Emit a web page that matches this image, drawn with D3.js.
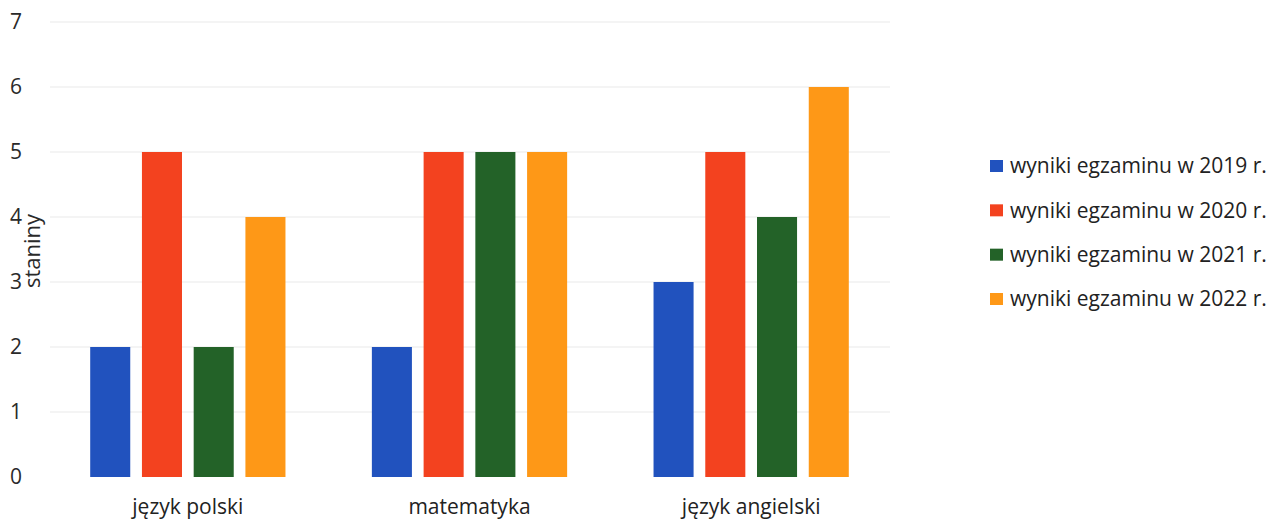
<!DOCTYPE html>
<html><head><meta charset="utf-8">
<script src="https://cdn.jsdelivr.net/npm/d3@7"></script>
<style>body{margin:0;background:#fff}svg{display:block}text{font-family:"Open Sans",sans-serif}</style>
</head><body><svg id="c" width="1271" height="519"></svg>
<script>
const categories = ["język polski", "matematyka", "język angielski"];
const seriesNames = ["wyniki egzaminu w 2019 r.", "wyniki egzaminu w 2020 r.", "wyniki egzaminu w 2021 r.", "wyniki egzaminu w 2022 r."];
const values2019 = [2, 2, 3];
const values2020 = [5, 5, 5];
const values2021 = [2, 5, 4];
const values2022 = [4, 5, 6];
const yTicks = [0, 1, 2, 3, 4, 5, 6, 7];
const colors = ["#2152be", "#f3421f", "#236228", "#fe9817"];
const yLabel = "staniny";

const FONT = "'Open Sans', sans-serif";
const series = [values2019, values2020, values2021, values2022];
const svg = d3.select("#c");
const x0 = d3.scaleBand().domain(categories).range([47, 892]);
const x1 = d3.scaleBand().domain(d3.range(4)).range([0, x0.bandwidth()]).paddingInner(0.226).paddingOuter(0.835);
const y = d3.scaleLinear().domain([0, 7]).range([477, 22]);

// gridlines
svg.append("g").selectAll("line").data(yTicks.filter(d => d > 0)).join("line")
  .attr("x1", 50).attr("x2", 890).attr("y1", d => y(d)).attr("y2", d => y(d))
  .attr("stroke", "#f0f0f0").attr("stroke-width", 1.5);

// y axis labels
const ya = svg.append("g").attr("transform", "translate(22,0)")
  .call(d3.axisLeft(y).tickValues(yTicks).tickSize(0).tickPadding(0).tickFormat(d3.format("d")));
ya.select(".domain").remove();
ya.attr("font-family", FONT);
ya.selectAll("text").attr("x", -6).attr("text-anchor", "middle").attr("font-size", 21).attr("fill", "#2a2a2a");

// x axis labels
const xa = svg.append("g").attr("transform", "translate(0,477)")
  .call(d3.axisBottom(x0).tickSize(0).tickPadding(0));
xa.select(".domain").remove();
xa.attr("font-family", FONT);
xa.selectAll("text").attr("y", 37).attr("dy", 0).attr("font-size", 21).attr("fill", "#222");

// bars
series.forEach((vals, si) => {
  svg.append("g").selectAll("rect").data(vals).join("rect")
    .attr("x", (d, i) => x0(categories[i]) + x1(si))
    .attr("width", x1.bandwidth())
    .attr("y", d => y(d))
    .attr("height", d => y(0) - y(d))
    .attr("fill", colors[si]);
});

// y label
svg.append("text").attr("transform", "translate(40,251) rotate(-90)")
  .attr("text-anchor", "middle").attr("font-size", 22).attr("fill", "#2a2a2a").text(yLabel);

// legend
const lg = svg.append("g");
const ly = d3.scalePoint().domain(d3.range(4)).range([166, 299]);
seriesNames.forEach((name, i) => {
  lg.append("rect").attr("x", 990).attr("y", ly(i) - 6).attr("width", 13).attr("height", 12).attr("fill", colors[i]);
  lg.append("text").attr("x", 1010).attr("y", ly(i)).attr("dy", "0.35em").attr("font-size", 21).attr("fill", "#222").text(name);
});
</script></body></html>
